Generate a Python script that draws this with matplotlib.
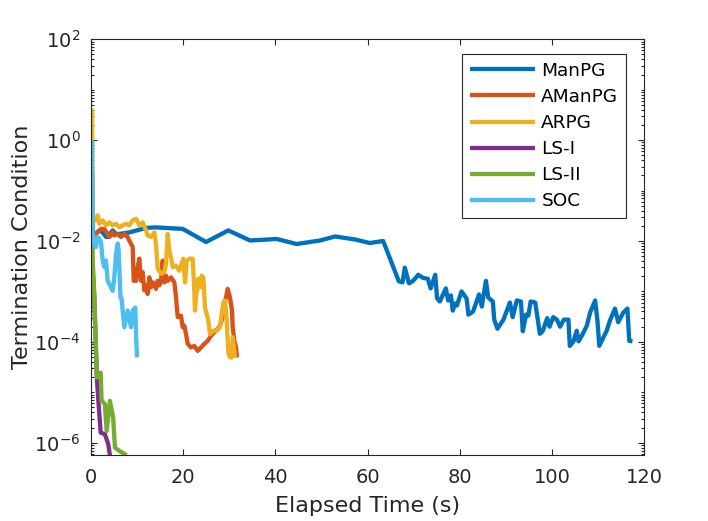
import matplotlib
matplotlib.use("Agg")
import matplotlib.pyplot as plt
import numpy as np
from matplotlib.ticker import LogLocator, FixedLocator, NullFormatter, FuncFormatter

plt.rcParams['font.family'] = ['DejaVu Sans']
plt.rcParams['axes.unicode_minus'] = False

# ---------------- data (elapsed time s, log10 of termination condition) -------------
manpg_t = [0.1, 0.43, 1.09, 1.80, 2.54, 3.26, 3.97, 4.34, 4.71, 5.43, 6.14, 8.31, 11.94, 14.1,
           19.9, 24.96, 29.8, 34.5, 40.3, 44.6, 49.7, 52.95, 57.3, 60.5, 63.4, 66.8, 67.6,
           68.1, 69.0, 69.9, 71.0, 72.0, 73.1, 73.7, 74.7, 75.1, 75.7, 77.0, 77.5, 78.1,
           78.5, 79.0, 79.4, 80.4, 81.5, 81.9, 82.9, 84.2, 84.8, 85.7, 86.2, 87.2, 87.5,
           88.2, 89.5, 90.9, 91.5, 92.4, 93.3, 93.7, 94.4, 94.9, 95.4, 96.4, 97.4, 98.0,
           99.0, 99.5, 100.3, 101.1, 101.8, 102.6, 103.6, 103.9, 104.7, 105.4, 105.8,
           106.5, 107.6, 108.3, 109.4, 109.9, 110.3, 111.2, 111.9, 112.6, 113.7, 114.4,
           115.5, 116.4, 116.8, 117.5]
manpg_log = [0.0, -1.89, -1.85, -1.79, -1.83, -1.92, -1.92, -1.83, -1.79, -1.86, -1.86, -1.83,
             -1.74, -1.73, -1.76, -2.02, -1.79, -1.99, -1.96, -2.06, -1.99, -1.91, -1.97,
             -2.04, -2.00, -2.80, -2.82, -2.53, -2.84, -2.79, -2.67, -2.73, -2.75, -2.94,
             -2.67, -3.14, -3.20, -2.94, -3.18, -3.08, -3.38, -3.24, -3.28, -3.00, -3.14,
             -3.46, -3.40, -3.06, -3.30, -2.79, -3.12, -3.20, -3.56, -3.74, -3.56, -3.22,
             -3.51, -3.18, -3.20, -3.79, -3.46, -3.48, -3.20, -3.22, -3.84, -3.79, -3.53,
             -3.70, -3.51, -3.56, -3.70, -3.56, -3.56, -4.08, -3.99, -3.78, -3.99, -3.88,
             -3.68, -3.42, -3.18, -3.58, -4.08, -3.91, -3.78, -3.58, -3.34, -3.61, -3.42,
             -3.34, -3.98, -3.99]

amanpg_t = [0.1, 0.3, 1.09, 2.17, 2.89, 3.62, 3.97, 4.71, 5.06, 5.79, 6.51, 7.23, 7.96, 8.31,
            9.05, 9.27, 9.77, 10.13, 10.48, 10.85, 11.22, 11.57, 11.94, 12.3, 12.65, 13.02,
            13.39, 13.74, 14.1, 14.47, 14.82, 15.19, 15.56, 15.91, 16.28, 16.65, 17.36,
            18.08, 18.45, 18.82, 19.53, 19.9, 20.25, 20.62, 20.99, 21.7, 22.42, 23.16,
            23.87, 24.59, 25.33, 26.04, 26.76, 27.84, 28.58, 29.15, 29.67, 30.16, 30.6,
            30.75, 31.1, 31.47, 31.68]
amanpg_log = [0.5, -1.9, -1.86, -1.76, -1.76, -1.86, -1.92, -1.83, -1.89, -1.86, -1.92, -1.86,
              -1.92, -1.99, -2.12, -2.79, -2.79, -2.52, -2.35, -2.79, -2.62, -2.98, -2.88,
              -3.05, -2.72, -2.92, -2.82, -2.85, -2.95, -2.79, -2.88, -2.79, -2.39, -2.82,
              -2.69, -2.79, -2.72, -2.82, -3.12, -3.51, -3.48, -3.71, -3.68, -3.85, -4.04,
              -4.11, -4.08, -4.18, -4.11, -4.04, -3.98, -3.88, -3.81, -3.71, -3.51, -3.18,
              -2.95, -3.12, -3.38, -3.71, -3.98, -4.11, -4.31]

arpg_t = [0.2, 0.4, 1.09, 1.45, 1.80, 2.54, 3.26, 3.97, 4.71, 5.43, 6.14, 6.88, 7.6, 8.31,
          9.05, 9.77, 10.48, 11.22, 11.94, 12.3, 13.02, 13.74, 14.1, 14.47, 15.19, 15.91,
          16.28, 16.65, 16.99, 17.36, 17.73, 18.45, 19.16, 20.03, 20.4, 20.77, 21.48, 22.07,
          22.35, 22.57, 22.79, 23.29, 23.65, 24.02, 24.37, 24.74, 25.11, 25.46, 25.82,
          26.54, 27.28, 27.99, 28.71, 29.08, 29.45, 29.8, 30.16, 30.53, 30.75, 31.25]
arpg_log = [0.63, -1.6, -1.59, -1.49, -1.66, -1.59, -1.69, -1.63, -1.69, -1.66, -1.73, -1.69,
            -1.66, -1.69, -1.59, -1.56, -1.69, -1.63, -1.79, -1.89, -1.92, -1.83, -2.06,
            -2.55, -2.65, -2.62, -2.45, -1.86, -2.19, -2.32, -2.52, -2.49, -2.59, -2.35,
            -2.82, -2.39, -2.35, -2.35, -2.85, -3.38, -3.12, -2.75, -2.92, -2.69, -2.72,
            -3.32, -3.45, -3.58, -3.85, -3.78, -3.78, -3.71, -3.22, -3.18, -3.58, -4.21,
            -4.31, -4.31, -3.91, -4.31]

lsi_t = [0.1, 0.25, 0.7, 1.3, 1.6, 2.1, 3.0, 3.75, 4.5]
lsi_log = [0.0, -2.4, -3.1, -4.75, -5.17, -5.80, -5.83, -6.03, -6.5]

lsii_t = [0.15, 0.3, 0.7, 1.25, 2.1, 2.3, 3.0, 3.4, 4.1, 4.8, 5.2, 6.3, 7.7]
lsii_log = [0.0, -2.3, -3.0, -4.71, -4.61, -5.17, -5.23, -5.77, -5.17, -5.50, -6.10, -6.17,
            -6.25]

soc_t = [0.15, 0.35, 0.7, 1.08, 1.45, 1.8, 2.17, 2.53, 2.9, 3.25, 3.62, 4.34, 4.7, 5.06, 5.43,
         5.8, 6.0, 6.4, 6.6, 6.88, 7.23, 7.96, 8.68, 9.05, 9.61, 9.77, 9.98]
soc_log = [0.0, -2.05, -1.92, -2.12, -1.92, -1.95, -2.02, -2.39, -2.52, -2.39, -2.79, -2.92,
           -2.99, -2.72, -2.26, -2.05, -2.19, -3.12, -3.12, -3.38, -3.71, -3.38, -3.71,
           -3.38, -3.32, -3.85, -4.31]

series_names = ['ManPG', 'AManPG', 'ARPG', 'LS-I', 'LS-II', 'SOC']
series_t = [manpg_t, amanpg_t, arpg_t, lsi_t, lsii_t, soc_t]
series_log = [manpg_log, amanpg_log, arpg_log, lsi_log, lsii_log, soc_log]
colors = ['#0072BD', '#D95319', '#EDB120', '#7E2F8E', '#77AC30', '#4DBEEE']

x_ticks = [0, 20, 40, 60, 80, 100, 120]
y_major = [1e-6, 1e-4, 1e-2, 1e0, 1e2]

# ---------------- figure -------------
fig = plt.figure(figsize=(7.08, 5.21), dpi=100)
ax = fig.add_axes([91/708, 1-455/521, (644-91)/708, (455-39.3)/521])

for name, t, lg, c in zip(series_names, series_t, series_log, colors):
    ax.plot(t, np.power(10.0, lg), color=c, lw=3.1, label=name,
            solid_joinstyle='round', solid_capstyle='butt')

ax.set_yscale('log')
ax.set_xlim(0, 120)
ax.set_ylim(5.7e-7, 1e2)
ax.set_xticks(x_ticks)
ax.yaxis.set_major_locator(FixedLocator(y_major))
ax.yaxis.set_minor_locator(LogLocator(base=10, subs=np.arange(1, 10), numticks=30))
ax.yaxis.set_minor_formatter(NullFormatter())

def fmt(v, pos):
    e = int(round(np.log10(v)))
    return r'$\mathdefault{10^{%d}}$' % e
ax.yaxis.set_major_formatter(FuncFormatter(fmt))

axcol = '#262626'
for s in ax.spines.values():
    s.set_color(axcol)
    s.set_linewidth(0.8)
ax.tick_params(which='both', direction='in', top=True, right=True, colors=axcol,
               labelcolor=axcol, labelsize=14, width=0.8)
ax.tick_params(which='major', length=4.5)
ax.tick_params(which='minor', length=2.5)
ax.tick_params(axis='x', which='major', pad=9.5)
ax.tick_params(axis='y', which='major', pad=7.5)
ax.tick_params(axis='x', which='minor', bottom=False, top=False)

ax.set_xlabel('Elapsed Time (s)', fontsize=16, color=axcol, labelpad=6)
ax.set_ylabel('Termination Condition', fontsize=16, color=axcol, labelpad=2)

leg = ax.legend(loc='upper right', bbox_to_anchor=(0.9675, 0.9647), borderaxespad=0,
                fontsize=13.3, frameon=True, fancybox=False, framealpha=1,
                edgecolor=axcol, handlelength=3.5, handletextpad=0.35,
                labelspacing=0.44, borderpad=0.42)
leg.get_frame().set_linewidth(0.8)
for txt in leg.get_texts():
    txt.set_color('black')

fig.savefig('out.png', dpi=100)
